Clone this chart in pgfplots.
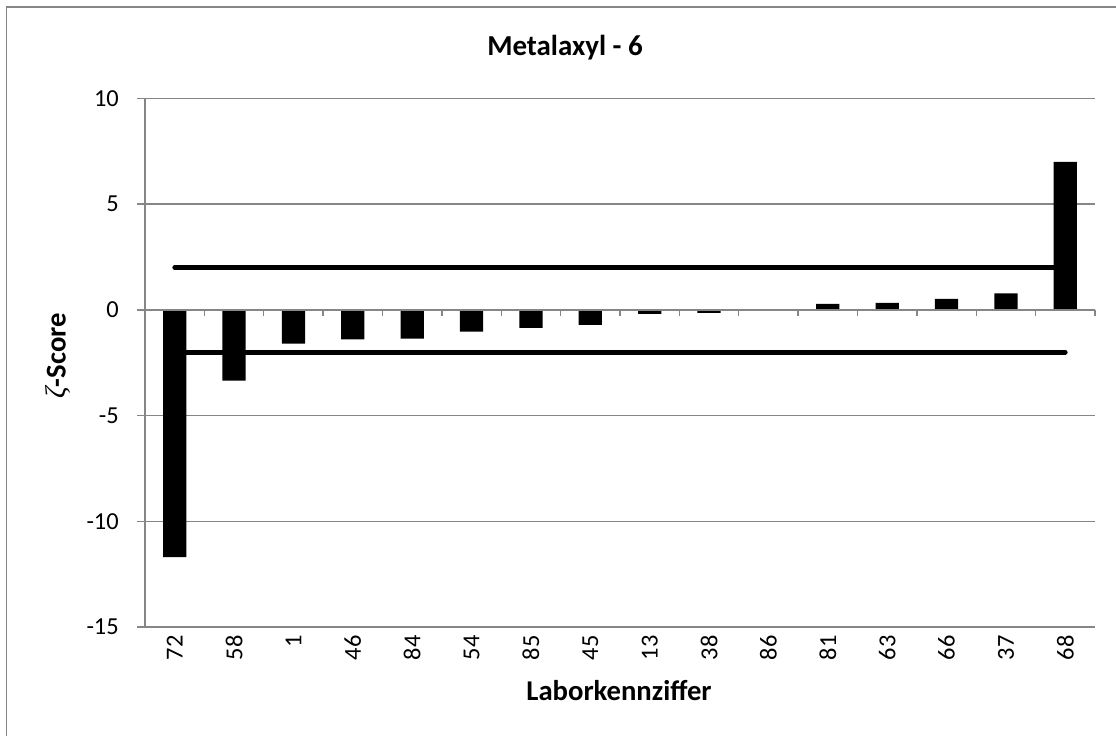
\documentclass[border=0pt]{standalone}
\usepackage{fontspec}
\setmainfont{Carlito}
\newfontfamily\zetafont{Liberation Serif}
\usepackage{pgfplots}
\pgfplotsset{compat=1.18}
\definecolor{gridgray}{RGB}{134,134,134}
\begin{document}
\begin{tikzpicture}[x=1pt,y=1pt]
\useasboundingbox (0,0) rectangle (837,551.25);
\draw[gridgray,line width=1.1pt] (4.875,-20) -- (4.875,546) -- (860,546);
\begin{axis}[
  at={(108.75pt,81pt)}, anchor=south west,
  scale only axis, width=712.5pt, height=396.375pt,
  xmin=-0.5, xmax=15.5, ymin=-15, ymax=10,
  axis y line*=left, axis x line*=bottom,
  x axis line style={draw=none},
  y axis line style={gridgray,line width=1.1pt},
  ytick={-15,-10,-5,0,5,10},
  yticklabels={-15,-10,-5,0,5,10},
  ymajorgrids, grid style={gridgray,line width=1.1pt},
  major tick length=6pt,
  ytick style={gridgray,line width=1.1pt},
  tick align=outside,
  yticklabel style={anchor=east,inner sep=0pt,xshift=-13.5pt,font=\fontsize{18.3}{20}\selectfont},
  xtick={0,...,15},
  xticklabels={72,58,1,46,84,54,85,45,13,38,86,81,63,66,37,68},
  xtick style={draw=none},
  xticklabel style={rotate=90,anchor=east,inner sep=0pt,font=\fontsize{18.3}{20}\selectfont},
  clip=false,
]
\addplot[black,line width=3.5pt,line cap=round] coordinates {(0,2) (15,2)};
\addplot[black,line width=3.5pt,line cap=round] coordinates {(0,-2) (15,-2)};
\addplot[ybar,bar width=17.5pt,bar shift=0pt,fill=black,draw=none] coordinates {
(0,-11.7) (1,-3.34) (2,-1.59) (3,-1.39) (4,-1.36) (5,-1.03) (6,-0.85) (7,-0.71)
(8,-0.19) (9,-0.14) (10,0) (11,0.28) (12,0.33) (13,0.52) (14,0.78) (15,7.0)};
\draw[gridgray,line width=1.1pt] (axis cs:-0.5,0) -- (axis cs:15.5,0);
\pgfplotsinvokeforeach{-0.5,0.5,1.5,2.5,3.5,4.5,5.5,6.5,7.5,8.5,9.5,10.5,11.5,12.5,13.5,14.5,15.5}{
  \draw[gridgray,line width=1.1pt] (axis cs:#1,0) -- ([yshift=-4.5pt]axis cs:#1,0);
}
\end{axis}
\node[anchor=base,font=\bfseries\fontsize{21.7}{24}\selectfont] at (423.75,509.25) {Metalaxyl - 6};
\node[anchor=base,font=\bfseries\fontsize{21.5}{24}\selectfont] at (464.25,26.25) {Laborkennziffer};
\node[rotate=90,font=\bfseries\fontsize{21.5}{24}\selectfont] at (43.5,284.25) {{\zetafont\mdseries\itshape ζ}-Score};
\end{tikzpicture}
\end{document}
